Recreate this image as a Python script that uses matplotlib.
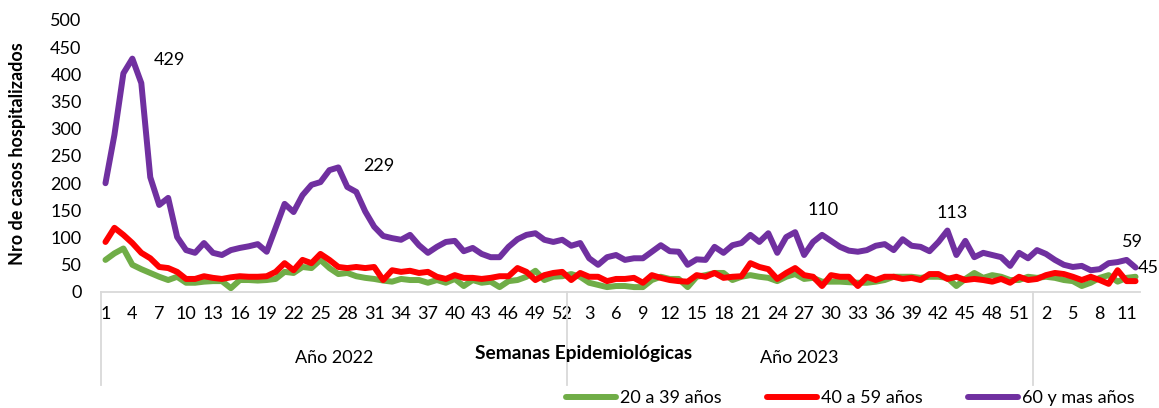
import matplotlib
matplotlib.use("Agg")
import matplotlib.pyplot as plt
import matplotlib.transforms as mtransforms
import numpy as np

plt.rcParams['font.family'] = ['Lato', 'DejaVu Sans']

# ---------------- data ----------------
years = ["Año 2022", "Año 2023", ""]
weeks_per_year = [52, 52, 12]

g20_39_2022 = [59, 71, 80, 50, 42, 35, 28, 22, 28, 17, 17, 19, 20, 20, 7, 22, 22, 21, 22, 24,
               37, 35, 46, 44, 59, 44, 33, 35, 29, 26, 24, 21, 19, 24, 22, 22, 17, 22, 17, 24,
               11, 22, 17, 19, 9, 20, 22, 28, 39, 22, 28, 29]
g20_39_2023 = [33, 28, 17, 13, 9, 11, 11, 9, 9, 22, 28, 24, 24, 9, 28, 31, 35, 35, 22, 28,
               31, 28, 26, 20, 28, 33, 24, 26, 19, 19, 19, 18, 17, 17, 19, 22, 28, 28, 28, 26,
               28, 28, 26, 11, 24, 35, 26, 31, 28, 22, 22, 28]
g20_39_2024 = [26, 28, 26, 22, 20, 11, 17, 26, 31, 19, 26, 28]

g40_59_2022 = [92, 118, 105, 90, 72, 62, 46, 44, 37, 24, 24, 29, 26, 24, 27, 29, 28, 28, 29, 37,
               53, 40, 59, 53, 70, 59, 46, 44, 46, 44, 46, 22, 40, 37, 39, 35, 37, 28, 24, 31,
               26, 26, 24, 26, 29, 29, 44, 37, 22, 31, 35, 37]
g40_59_2023 = [22, 35, 28, 28, 20, 24, 24, 26, 17, 31, 26, 22, 20, 19, 31, 28, 35, 26, 28, 29,
               53, 46, 42, 24, 35, 44, 31, 28, 11, 31, 28, 28, 11, 28, 22, 28, 28, 24, 26, 22,
               33, 33, 24, 28, 22, 24, 22, 19, 24, 17, 28, 22]
g40_59_2024 = [24, 31, 35, 33, 28, 22, 28, 22, 15, 40, 20, 20]

g60_2022 = [200, 289, 402, 429, 384, 211, 160, 173, 101, 77, 72, 90, 72, 68, 77, 81, 84, 88, 74, 118,
            162, 147, 178, 197, 202, 224, 229, 193, 184, 148, 120, 103, 99, 96, 105, 86, 72, 83, 92, 94,
            75, 81, 70, 64, 64, 83, 97, 105, 108, 96, 92, 96]
g60_2023 = [85, 90, 62, 50, 64, 68, 59, 62, 62, 74, 86, 75, 74, 50, 60, 59, 83, 72, 86, 90,
            105, 92, 108, 72, 101, 110, 68, 92, 105, 94, 83, 76, 74, 77, 85, 88, 77, 97, 85, 83,
            75, 92, 113, 68, 94, 64, 72, 68, 64, 48, 72, 62]
g60_2024 = [77, 70, 59, 50, 46, 48, 40, 42, 53, 55, 59, 45]

series_names = ["20 a 39 años", "40 a 59 años", "60 y mas años"]
series_colors = ["#70AD47", "#FF0000", "#7030A0"]

# labelled points: (series index, global index, offset px)
labelled = [(2, 3, (37, -1)), (2, 26, (40, 1)), (2, 52 + 25, (28, 22)),
            (2, 52 + 42, (5, 18)), (2, 104 + 10, (6, 18)), (2, 104 + 11, (2, 0))]

# ---------------- build ----------------
s1 = g20_39_2022 + g20_39_2023 + g20_39_2024
s2 = g40_59_2022 + g40_59_2023 + g40_59_2024
s3 = g60_2022 + g60_2023 + g60_2024
series = [s1, s2, s3]
week_labels = []
for n in weeks_per_year:
    week_labels += [str(w) for w in range(1, n + 1)]
N = len(week_labels)
x = np.arange(N)

FS = 13

fig = plt.figure(figsize=(11.59, 4.08), dpi=100)
ax = fig.add_axes([101 / 1159, 1 - 292 / 408, (1140 - 101) / 1159, (292 - 20) / 408])

handles = []
for s, name, c in zip(series, series_names, series_colors):
    h, = ax.plot(x, s, color=c, lw=4.3, solid_joinstyle='round', solid_capstyle='round', label=name)
    handles.append(h)

ax.set_xlim(-0.5, N - 0.5)
ax.set_ylim(0, 500)
ax.set_yticks(np.arange(0, 501, 50))
ax.tick_params(axis='y', length=0, labelsize=FS, pad=14, colors='#000000')
ax.set_xticks(x[::3])
ax.set_xticklabels(week_labels[::3])
ax.tick_params(axis='x', length=0, labelsize=FS, pad=10)
for sp in ['top', 'right', 'left']:
    ax.spines[sp].set_visible(False)
ax.spines['bottom'].set_color('#D9D9D9')
ax.spines['bottom'].set_linewidth(1.3)

# multi-level category axis
trans = mtransforms.blended_transform_factory(ax.transData, ax.transAxes)
bounds = np.cumsum([0] + weeks_per_year) - 0.5
for b in bounds[:-1]:
    ax.plot([b, b], [0, -93 / 272], transform=trans, color='#D9D9D9', lw=1.3, clip_on=False)
for i, yl in enumerate(years):
    if yl:
        ax.text((bounds[i] + bounds[i + 1]) / 2, -66 / 272, yl, transform=trans,
                ha='center', va='center', fontsize=FS)

ax.text((584 - 101) / 1039, -62 / 272, "Semanas Epidemiológicas", transform=ax.transAxes,
        ha='center', va='center', fontsize=13.8, fontweight='bold')
fig.text(18 / 1159, 1 - 154 / 408, "Nro de casos hospitalizados", rotation=90,
         ha='center', va='center', fontsize=13, fontweight='bold')

for si, gi, (dx, dy) in labelled:
    ax.annotate(str(series[si][gi]), xy=(gi, series[si][gi]), xytext=(dx, dy),
                textcoords='offset pixels', ha='center' if dx > 3 else 'left',
                va='center', fontsize=FS, annotation_clip=False)

fig.legend(handles=handles, loc='center', bbox_to_anchor=(850 / 1159, 1 - 398 / 408),
           ncol=3, frameon=False, fontsize=FS, handlelength=2.8, handletextpad=0.2,
           columnspacing=2.5)

fig.savefig("out.png", dpi=100)
